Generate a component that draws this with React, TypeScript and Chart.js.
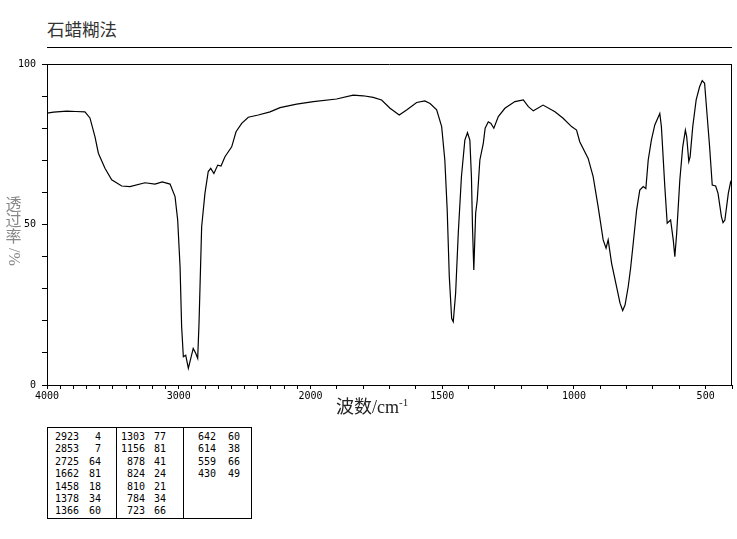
import React, { useEffect, useRef } from "react";
import { Chart, registerables } from "chart.js";

Chart.register(...registerables);

// spectrum
const wavenumbers = [
  4000, 3950, 3850, 3780, 3712, 3674, 3636, 3610, 3560, 3509, 3433, 3370, 3256, 3180, 3125, 3066, 3028, 3008,
  2990, 2978, 2965, 2947, 2927, 2890, 2871, 2856, 2846, 2826, 2801, 2776, 2757, 2733, 2704, 2679, 2649,
  2598, 2565, 2522, 2472, 2396, 2307, 2231, 2105, 1989, 1901, 1838, 1800, 1762, 1730, 1698, 1663, 1635,
  1597, 1566, 1546, 1521, 1502, 1490, 1481, 1473, 1464, 1458, 1449, 1439, 1427, 1414, 1404, 1395, 1389,
  1385, 1380, 1373, 1367, 1357, 1344, 1337, 1325, 1315, 1304, 1287, 1262, 1224, 1192, 1173, 1154, 1117,
  1072, 1041, 1009, 990, 978, 946, 927, 908, 889, 878, 870, 857, 838, 825, 815, 806, 794, 785, 775, 762,
  750, 737, 727, 718, 706, 693, 674, 668, 655, 646, 633, 623, 617, 610, 598, 587, 577, 572, 564, 559,
  549, 536, 523, 513, 504, 498, 485, 475, 462, 453, 440, 434, 427, 414, 405, 400,
];
const transmittance = [
  84.7, 85.0, 85.3, 85.2, 85.1, 83.2, 77.4, 72.2, 67.5, 63.9, 62.0, 61.8, 63.0, 62.6, 63.3, 62.6, 58.7, 51.4,
  36.9, 18.2, 8.8, 9.3, 5.2, 11.4, 9.9, 8.3, 19.2, 49.3, 59.7, 66.5, 67.5, 65.9, 68.5, 68.2, 71.1,
  74.2, 78.9, 81.5, 83.4, 84.1, 85.1, 86.4, 87.5, 88.3, 89.1, 90.3, 90.1, 89.6, 88.8, 86.2, 84.1, 85.7,
  88.0, 88.5, 87.7, 85.7, 80.5, 70.1, 54.5, 33.7, 20.7, 19.7, 28.6, 47.2, 64.9, 76.3, 78.6, 76.3, 64.9,
  49.3, 35.8, 53.5, 57.6, 70.1, 75.3, 80.0, 82.0, 81.5, 80.0, 83.6, 86.2, 88.3, 88.8, 86.7, 85.4, 87.2,
  85.1, 83.1, 80.5, 79.4, 75.8, 70.6, 64.9, 55.5, 45.2, 42.6, 45.2, 37.9, 30.6, 25.5, 23.2, 24.9, 30.6, 36.3, 44.1, 54.5,
  60.7, 61.8, 61.2, 70.1, 76.3, 81.0, 84.6, 80.5, 61.8, 50.4, 51.4, 45.2, 40.0, 47.2, 63.9, 74.2, 79.4, 77.4, 69.6, 71.1,
  80.5, 88.8, 92.9, 94.8, 94.0, 87.7, 74.2, 62.3, 62.0, 59.7, 52.4, 50.6, 51.4, 59.7, 63.3, 64.0,
];

const xTickWavenumbers = [
  4000, 3900, 3800, 3700, 3600, 3500, 3400, 3300, 3200, 3100, 3000, 2900, 2800, 2700, 2600, 2500, 2400,
  2300, 2200, 2100, 2000, 1900, 1800, 1700, 1600, 1500, 1400, 1300, 1200, 1100, 1000, 900, 800, 700,
  600, 500, 400,
];
const xLabelWavenumbers = [4000, 3000, 2000, 1500, 1000, 500];
const yLabelValues = [0, 50, 100];

// peak table
const peakWavenumbers = [2923, 2853, 2725, 1662, 1458, 1378, 1366, 1303, 1156, 878, 824, 810, 784, 723, 642, 614, 559, 430];
const peakValues = [4, 7, 64, 81, 18, 34, 60, 77, 81, 41, 24, 21, 34, 66, 60, 38, 66, 49];

// the axis is compressed 2:1 above 2000 cm-1
const toPos = (w: number) => (w >= 2000 ? (4000 - w) / 2 : 1000 + (2000 - w));
const fromPos = (p: number) => (p <= 1000 ? 4000 - p * 2 : 2000 - (p - 1000));

const MONO = '"DejaVu Sans Mono", monospace';
const SERIF_CJK = '"Liberation Serif", "Noto Sans CJK SC", serif';

const framePlugin = {
  id: "frame",
  afterDraw(chart: any) {
    const { ctx, chartArea } = chart;
    ctx.save();
    ctx.strokeStyle = "#000";
    ctx.lineWidth = 1;
    ctx.beginPath();
    ctx.moveTo(chartArea.left, Math.round(chartArea.top) + 0.5);
    ctx.lineTo(chartArea.right, Math.round(chartArea.top) + 0.5);
    ctx.moveTo(Math.round(chartArea.right) - 0.5, chartArea.top);
    ctx.lineTo(Math.round(chartArea.right) - 0.5, chartArea.bottom);
    ctx.stroke();
    ctx.restore();
  },
};

const SpectrumChart: React.FC = () => {
  const canvasRef = useRef<HTMLCanvasElement>(null);
  const chartRef = useRef<Chart | null>(null);

  useEffect(() => {
    if (!canvasRef.current) return;
    if (chartRef.current) chartRef.current.destroy();

    chartRef.current = new Chart(canvasRef.current, {
      type: "line",
      data: {
        datasets: [
          {
            data: wavenumbers.map((w, i) => ({ x: toPos(w), y: transmittance[i] })),
            borderColor: "#000",
            borderWidth: 1.2,
            pointRadius: 0,
            tension: 0,
            fill: false,
          },
        ],
      },
      options: {
        animation: false,
        responsive: true,
        maintainAspectRatio: false,
        layout: { padding: { left: 0, top: 64, right: 5, bottom: 0 } },
        plugins: { legend: { display: false }, tooltip: { enabled: false } },
        scales: {
          x: {
            type: "linear",
            min: 0,
            max: 2600,
            afterBuildTicks: (scale: any) => {
              scale.ticks = xTickWavenumbers.map((w) => ({ value: toPos(w) }));
            },
            afterFit: (scale: any) => {
              scale.height = 25;
            },
            ticks: {
              autoSkip: false,
              maxRotation: 0,
              padding: 1,
              color: "#000",
              font: { family: MONO, size: 10 },
              callback: (v: any) => {
                const w = Math.round(fromPos(Number(v)));
                return xLabelWavenumbers.includes(w) ? String(w) : "";
              },
            },
            grid: { drawOnChartArea: false, drawTicks: true, tickLength: 4, tickColor: "#000" },
            border: { display: true, color: "#000", width: 1 },
          },
          y: {
            min: 0,
            max: 100,
            afterFit: (scale: any) => {
              scale.width = 47;
            },
            ticks: {
              stepSize: 10,
              padding: 6,
              color: "#000",
              font: { family: MONO, size: 10 },
              callback: (v: any) => (yLabelValues.includes(Number(v)) ? String(v) : ""),
            },
            grid: { drawOnChartArea: false, drawTicks: true, tickLength: 5, tickColor: "#000" },
            border: { display: true, color: "#000", width: 1 },
          },
        },
      },
      plugins: [framePlugin],
    } as any);

    return () => {
      if (chartRef.current) {
        chartRef.current.destroy();
        chartRef.current = null;
      }
    };
  }, []);

  return (
    <div style={{ position: "absolute", left: 0, top: 0, width: 737, height: 410 }}>
      <canvas ref={canvasRef}></canvas>
    </div>
  );
};

const PeakTable: React.FC = () => {
  const cols = [0, 7, 14].map((s) => peakWavenumbers.slice(s, s + 7).map((w, i) => [w, peakValues[s + i]]));
  const wnRight = [79, 145, 216];
  const valRight = [101, 166, 240];
  return (
    <div
      style={{
        position: "absolute",
        left: 47,
        top: 427,
        width: 205,
        height: 92,
        border: "1px solid #000",
        boxSizing: "border-box",
        fontFamily: MONO,
        fontSize: 10,
        color: "#000",
      }}
    >
      <div style={{ position: "absolute", left: 116 - 48, top: 0, bottom: 0, width: 1, background: "#000" }} />
      <div style={{ position: "absolute", left: 183 - 48, top: 0, bottom: 0, width: 1, background: "#000" }} />
      {cols.map((col, c) =>
        col.map(([w, v], r) => (
          <React.Fragment key={`${c}-${r}`}>
            <span style={{ position: "absolute", right: 252 - wnRight[c] - 1, top: 3 + r * 12.4, lineHeight: "12px" }}>
              {w}
            </span>
            <span style={{ position: "absolute", right: 252 - valRight[c] - 1, top: 3 + r * 12.4, lineHeight: "12px" }}>
              {v}
            </span>
          </React.Fragment>
        ))
      )}
    </div>
  );
};

const App: React.FC = () => {
  return (
    <div style={{ position: "absolute", left: 0, top: 0, width: 737, height: 539, background: "#fff" }}>
      <div
        style={{
          position: "absolute",
          left: 47,
          top: 20,
          fontFamily: '"Noto Sans CJK SC", sans-serif',
          fontSize: 17.5,
          lineHeight: "18px",
          color: "#333",
        }}
      >
        石蜡糊法
      </div>
      <div style={{ position: "absolute", left: 47, top: 47, width: 685, height: 1, background: "#000" }} />
      <SpectrumChart />
      {/* vertical axis title: CJK upright, "/%" turned */}
      <div
        style={{
          position: "absolute",
          left: 5,
          top: 197,
          width: 17,
          textAlign: "center",
          fontFamily: SERIF_CJK,
          fontSize: 16,
          lineHeight: "16px",
          color: "#888",
        }}
      >
        <div>透</div>
        <div>过</div>
        <div>率</div>
        <div style={{ height: 24, position: "relative" }}>
          <span
            style={{
              position: "absolute",
              left: "50%",
              top: "50%",
              whiteSpace: "nowrap",
              transform: "translate(-50%, -50%) rotate(90deg)",
            }}
          >
            /%
          </span>
        </div>
      </div>
      <div
        style={{
          position: "absolute",
          left: 336,
          top: 397,
          fontFamily: SERIF_CJK,
          fontSize: 18,
          lineHeight: "20px",
          color: "#222",
          whiteSpace: "nowrap",
        }}
      >
        波数/cm<sup style={{ fontSize: 11, verticalAlign: "top", lineHeight: "10px" }}>-1</sup>
      </div>
      <PeakTable />
    </div>
  );
};

export default App;
